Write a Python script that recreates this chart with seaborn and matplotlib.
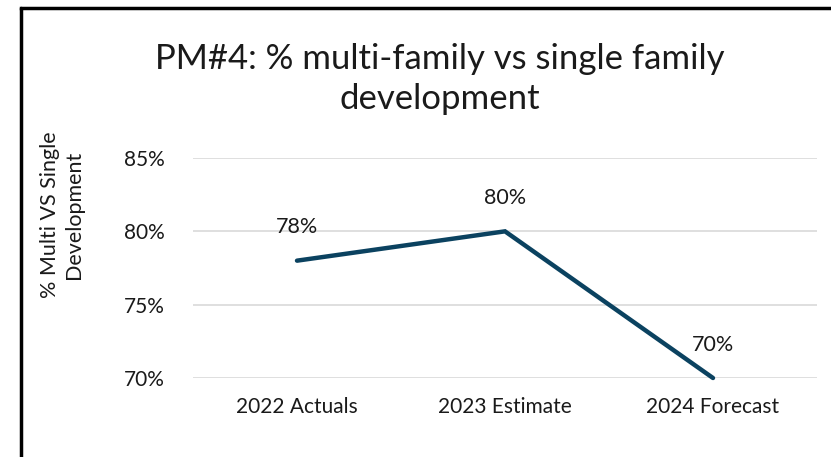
import numpy as np
import pandas as pd
import matplotlib.pyplot as plt
import seaborn as sns
from matplotlib.lines import Line2D
from matplotlib.ticker import PercentFormatter

# data
categories = ["2022 Actuals", "2023 Estimate", "2024 Forecast"]
share_multi = [0.78, 0.80, 0.70]
y_ticks = [0.70, 0.75, 0.80, 0.85]

sns.set_theme(style="white")
plt.rcParams['font.family'] = ['Lato', 'DejaVu Sans']

df = pd.DataFrame({"year": categories, "share": share_multi})

fig = plt.figure(figsize=(8.31, 4.57), dpi=100)
ax = fig.add_axes([193 / 831, 1 - 378 / 457, (817 - 193) / 831, (378 - 158) / 457])

sns.lineplot(data=df, x="year", y="share", ax=ax, color="#0B4260", linewidth=3.2,
             sort=False, solid_capstyle="round", solid_joinstyle="miter", clip_on=False)

# data labels above points
for i, v in enumerate(share_multi):
    ax.annotate(f"{v:.0%}", (i, v), xytext=(0, 24), textcoords="offset points",
                ha="center", va="center", fontsize=15.5, color="#1a1a1a")

ax.set_xlim(-0.5, 2.5)
ax.set_ylim(0.70, 0.85)
ax.set_yticks(y_ticks)
ax.yaxis.set_major_formatter(PercentFormatter(1.0, decimals=0))
ax.grid(axis="y", color="#D9D9D9", linewidth=1.2)
ax.set_axisbelow(True)
for s in ax.spines.values():
    s.set_visible(False)
ax.tick_params(axis="both", length=0, labelsize=15, colors="#1a1a1a")
ax.tick_params(axis="x", pad=14)
ax.tick_params(axis="y", pad=20)
ax.set_xlabel("")
ax.set_ylabel("")

# title and axis title
fig.text(440 / 831, 1 - 79 / 457, "PM#4: % multi-family vs single family\ndevelopment",
         ha="center", va="center", fontsize=25, color="#1a1a1a", linespacing=1.3)
fig.text(62 / 831, 1 - 215 / 457, "% Multi VS Single\nDevelopment", rotation=90,
         ha="center", va="center", fontsize=15.5, color="#1a1a1a", multialignment="center",
         linespacing=1.25)

# chart frame (left and top edges visible)
fig.add_artist(Line2D([21 / 831, 21 / 831], [0, 1 - 8 / 457], transform=fig.transFigure,
                      color="black", linewidth=2.5))
fig.add_artist(Line2D([21 / 831, 1], [1 - 8 / 457, 1 - 8 / 457], transform=fig.transFigure,
                      color="black", linewidth=2.5, solid_capstyle="projecting"))

fig.savefig("out.png", dpi=100)
